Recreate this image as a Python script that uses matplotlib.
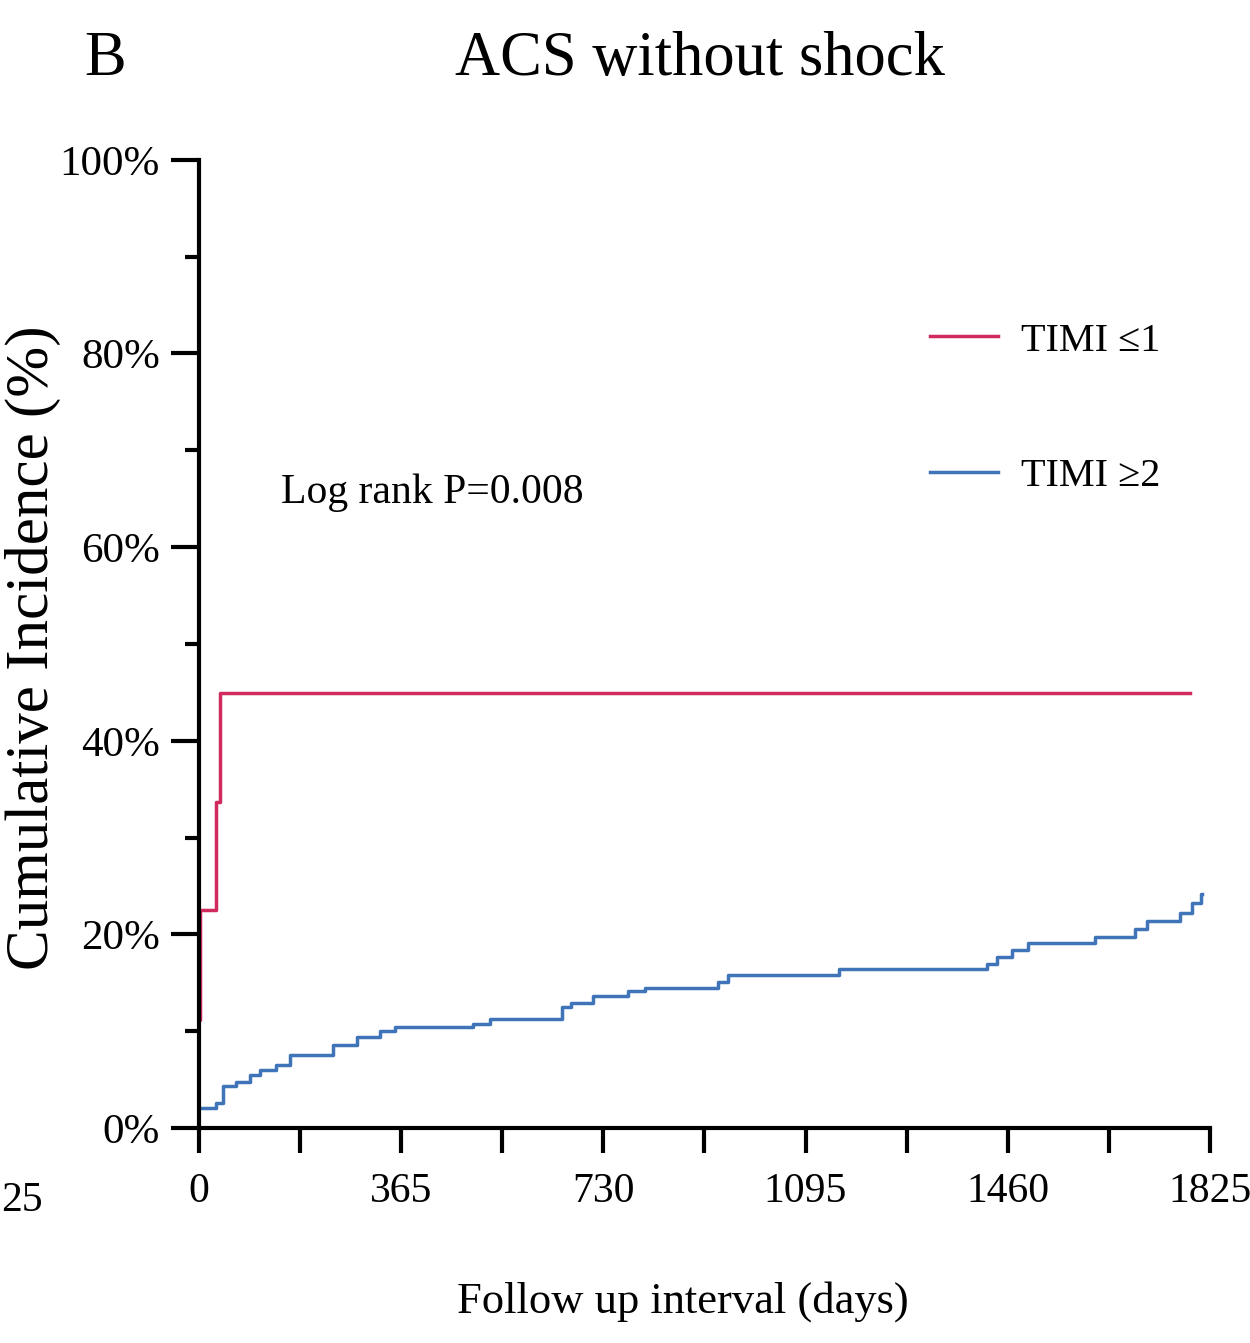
import matplotlib
matplotlib.use("Agg")
import matplotlib.pyplot as plt
from matplotlib.ticker import MultipleLocator

plt.rcParams['font.family'] = ['Liberation Serif', 'DejaVu Serif']

# TIMI <=1 step curve (days, cumulative incidence %)
red_days = [0, 2, 32, 38, 1789]
red_vals = [11.2, 22.5, 33.7, 44.9, 44.9]

# TIMI >=2 step curve
blue_days = [0, 2, 32, 43, 68, 92, 110, 140, 164, 242, 285, 327, 354, 495, 525,
             655, 672, 711, 774, 805, 937, 955, 1155, 1422, 1440, 1467, 1497,
             1617, 1689, 1711, 1770, 1792, 1808, 1810]
blue_vals = [2.1, 2.1, 2.6, 4.4, 4.8, 5.5, 6.0, 6.5, 7.5, 8.6, 9.4, 10.0, 10.4, 10.8, 11.3,
             12.5, 12.9, 13.6, 14.2, 14.5, 15.1, 15.8, 16.4, 17.0, 17.7, 18.4, 19.1,
             19.7, 20.6, 21.4, 22.2, 23.2, 24.2, 24.2]

x_ticks = [0, 365, 730, 1095, 1460, 1825]
y_ticks = [0, 20, 40, 60, 80, 100]
y_tick_labels = ['0%', '20%', '40%', '60%', '80%', '100%']

red = '#d02a5e'
blue = '#3f74b8'

fig = plt.figure(figsize=(12.5, 13.43), dpi=100)
ax = fig.add_axes([0.159, 0.160, 0.809, 0.721])

ax.step(red_days, red_vals, where='post', color=red, lw=2.5, label='TIMI \u22641')
ax.step(blue_days, blue_vals, where='post', color=blue, lw=2.5, label='TIMI \u22652')

ax.set_xlim(0, 1825)
ax.set_ylim(0, 100)
for s in ['top', 'right']:
    ax.spines[s].set_visible(False)
for s in ['left', 'bottom']:
    ax.spines[s].set_linewidth(3)

ax.set_xticks(x_ticks)
ax.set_xticklabels([str(v) for v in x_ticks])
ax.xaxis.set_minor_locator(MultipleLocator(182.5))
ax.set_yticks(y_ticks)
ax.set_yticklabels(y_tick_labels)
ax.yaxis.set_minor_locator(MultipleLocator(10))
ax.tick_params(axis='x', which='both', length=18, width=3, direction='out',
               labelsize=30, pad=14)
ax.tick_params(axis='y', which='major', length=20, width=3, labelsize=31, pad=8)
ax.tick_params(axis='y', which='minor', length=10, width=3)

ax.set_xlabel('Follow up interval (days)', fontsize=32)
ax.xaxis.set_label_coords(0.479, -0.158)
ax.set_ylabel('Cumulative Incidence (%)', fontsize=44)
ax.yaxis.set_label_coords(-0.136, 0.496)

ax.text(421, 65.6, 'Log rank P=0.008', fontsize=30, ha='center', va='center')

ax.legend(loc='upper left', bbox_to_anchor=(0.744, 0.760), bbox_transform=fig.transFigure,
          frameon=False, fontsize=29, handlelength=1.7, handletextpad=0.55,
          labelspacing=2.45, borderpad=0, borderaxespad=0)

fig.text(0.56, 0.955, 'ACS without shock', fontsize=45, ha='center', va='center')
fig.text(0.084, 0.955, 'B', fontsize=45, ha='center', va='center')
# remnant of the neighbouring panel's last x tick label
fig.text(0.034, 0.106, '25', fontsize=30, ha='right', va='center')

fig.savefig('out.png', dpi=100)
